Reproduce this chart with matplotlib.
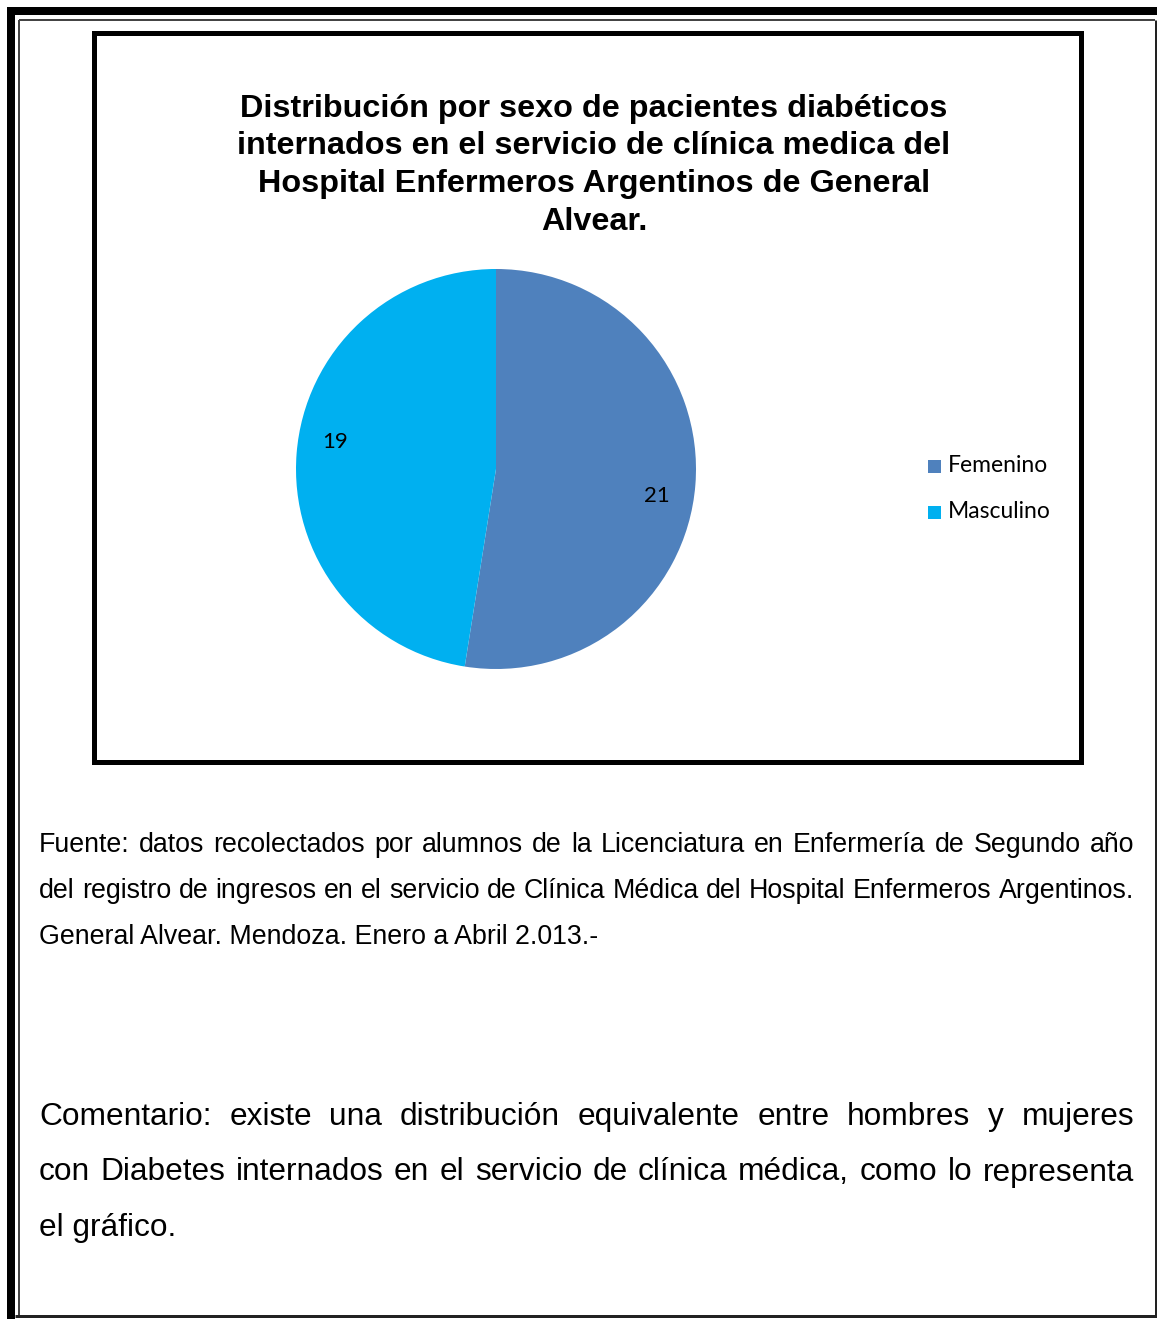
import matplotlib
matplotlib.use("Agg")
import matplotlib.pyplot as plt
import numpy as np
from matplotlib.patches import Rectangle

# ---- data ----
categories = ["Femenino", "Masculino"]
values = [21, 19]
colors = ["#4F81BD", "#00B0F0"]
title_lines = [
    "Distribución por sexo de pacientes diabéticos",
    "internados en el servicio de clínica medica del",
    "Hospital Enfermeros Argentinos de General",
    "Alvear.",
]
fuente_lines = [
    "Fuente: datos recolectados por alumnos de la Licenciatura en Enfermería de Segundo año",
    "del registro de ingresos en el servicio de Clínica Médica del Hospital Enfermeros Argentinos.",
    "General Alvear. Mendoza. Enero a Abril 2.013.-",
]
comentario_lines = [
    "Comentario: existe una distribución equivalente entre hombres y mujeres",
    "con Diabetes internados en el servicio de clínica médica, como lo representa",
    "el gráfico.",
]

W, H = 1157, 1319
fig = plt.figure(figsize=(W / 100, H / 100), dpi=100)
fig.patch.set_facecolor("white")

# pixel-coordinate overlay axes
bg = fig.add_axes([0, 0, 1, 1])
bg.set_xlim(0, W)
bg.set_ylim(H, 0)
bg.axis("off")

PX = 0.72  # points per pixel at dpi 100

# outer page frame
bg.plot([7, W], [11, 11], color="black", lw=8 * PX, solid_capstyle="butt")
bg.plot([11, 11], [7, H], color="black", lw=8 * PX, solid_capstyle="butt")
bg.plot([19, 1155], [20, 20], color="#444444", lw=2 * PX, solid_capstyle="butt")
bg.plot([19, 19], [20, 1315], color="#444444", lw=2 * PX, solid_capstyle="butt")
bg.plot([1155.5, 1155.5], [20, 1317], color="#222222", lw=3 * PX, solid_capstyle="butt")
bg.plot([15, W], [1316, 1316], color="#222222", lw=3 * PX, solid_capstyle="butt")

# chart box
bg.add_patch(Rectangle((93.5, 32.5), 1080.5 - 93.5, 762 - 32.5, fill=False,
                       edgecolor="black", lw=5 * PX))

# title
for i, line in enumerate(title_lines):
    bg.text(594, 109 + i * 37.5, line, ha="center", va="center",
            fontsize=23.3, fontweight="bold", family="Liberation Sans", color="black")

# pie
cx, cy, r = 496, 469, 200
pax = fig.add_axes([(cx - r) / W, 1 - (cy + r) / H, 2 * r / W, 2 * r / H])
wedges, _ = pax.pie(values, colors=colors, startangle=90, counterclock=False,
                    radius=1, wedgeprops=dict(linewidth=0))
pax.set_xlim(-1, 1)
pax.set_ylim(-1, 1)
pax.set_aspect("equal")

# data labels (placed from wedge angles, slightly rotated clockwise like Excel)
for w, v in zip(wedges, values):
    ang = np.deg2rad((w.theta1 + w.theta2) / 2 - 5)
    pax.text(0.815 * np.cos(ang), 0.815 * np.sin(ang), str(v), ha="center", va="center",
             fontsize=16, family="Lato", color="black")

# legend
for i, (cat, col) in enumerate(zip(categories, colors)):
    y = 466 + i * 46
    bg.add_patch(Rectangle((928, y - 6.5), 13, 13, facecolor=col, edgecolor="none"))
    bg.text(948, y, cat, ha="left", va="center", fontsize=16.5, family="Lato", color="black")

# justified text helper
fig.canvas.draw()
renderer = fig.canvas.get_renderer()


def justified(lines, y0, dy, size, x0=39, x1=1134):
    for li, line in enumerate(lines):
        y = y0 + li * dy
        words = line.split(" ")
        last = li == len(lines) - 1
        if last:
            bg.text(x0, y, line, ha="left", va="center", fontsize=size,
                    family="Liberation Sans", color="black")
            continue
        arts = []
        widths = []
        for w in words:
            t = bg.text(0, y, w, ha="left", va="center", fontsize=size,
                        family="Liberation Sans", color="black")
            widths.append(t.get_window_extent(renderer).width)
            arts.append(t)
        gap = (x1 - x0 - sum(widths)) / (len(words) - 1)
        x = x0
        for t, wd in zip(arts, widths):
            t.set_x(x)
            x += wd + gap


justified(fuente_lines, 845, 46, 19.3)
justified(comentario_lines, 1117, 55.5, 22.8)

fig.savefig("out.png", dpi=100, facecolor="white")
